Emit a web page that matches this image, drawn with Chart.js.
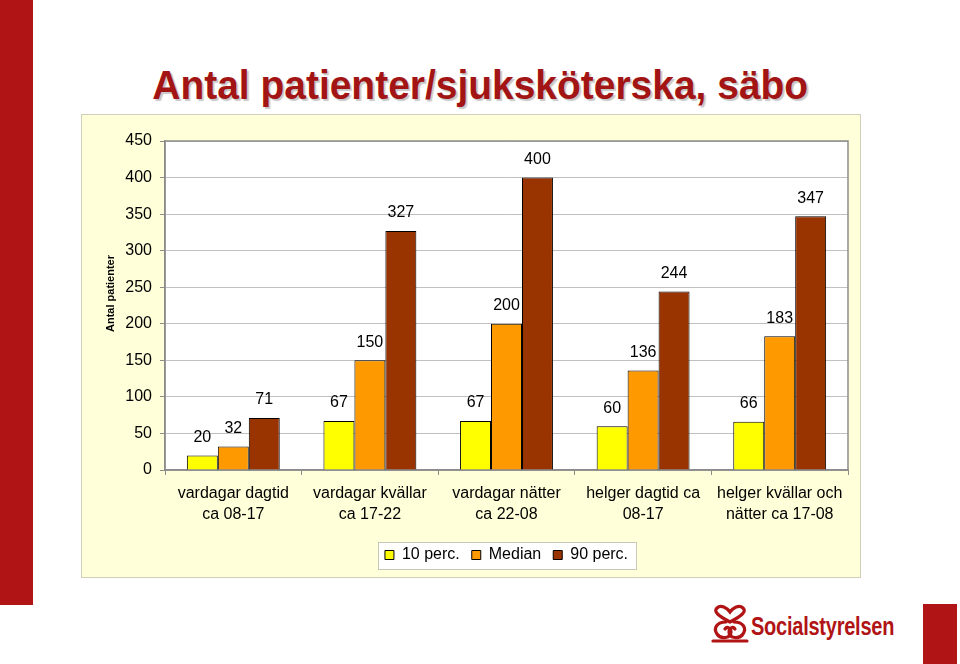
<!DOCTYPE html>
<html>
<head>
<meta charset="utf-8">
<script src="https://cdn.jsdelivr.net/npm/chart.js@4/dist/chart.umd.min.js"></script>
<style>
  html, body { margin: 0; padding: 0; background: #ffffff; }
  body { width: 960px; height: 664px; position: relative; overflow: hidden; font-family: "Liberation Sans", Arial, sans-serif; }
  #redbar { position: absolute; left: 0; top: 0; width: 33px; height: 605px; background: #b01414; }
  #redsq { position: absolute; left: 923px; top: 604px; width: 34px; height: 60px; background: #b01414; }
  #title { position: absolute; left: 0; width: 960px; top: 62px; text-align: center; font-weight: bold; font-size: 41px; color: #a31515;
           text-shadow: 2px 2px 1px #c8c8c8; white-space: nowrap; }
  #title span { display: inline-block; transform: scaleX(0.95); }
  #box { position: absolute; left: 82px; top: 115px; width: 778px; height: 462px; background: #ffffd9; box-shadow: 0 0 0 1px #d0d0b8; }
  canvas { display: block; }
  #logo { position: absolute; left: 709px; top: 604px; width: 200px; height: 44px; }
  #logotext { position: absolute; left: 751px; top: 612px; font-size: 25px; font-weight: bold; color: #b01414; transform: scaleX(0.80); transform-origin: left center; white-space: nowrap; letter-spacing: -0.3px; }
</style>
</head>
<body>
<div id="redbar"></div>
<div id="title"><span>Antal patienter/sjuksköterska, säbo</span></div>
<div id="box"><canvas id="c" width="778" height="462"></canvas></div>
<svg id="logo" viewBox="0 0 200 44" xmlns="http://www.w3.org/2000/svg">
  <g fill="none" stroke="#b01414" stroke-width="3.2" stroke-linecap="round">
    <path d="M21 18 C 10 12, 4 8, 8 4 C 12 0, 18 4, 21 8 C 24 4, 30 0, 34 4 C 38 8, 32 12, 21 18"/>
    <path d="M17 18 C 8 18, 4 24, 8 30 C 12 36, 22 34, 22 28 C 22 24, 18 22, 16 25"/>
    <path d="M25 18 C 34 18, 38 24, 34 30 C 30 36, 20 34, 20 28 C 20 24, 24 22, 26 25"/>
    <path d="M4 37 L 38 37"/>
  </g>
</svg>
<div id="logotext">Socialstyrelsen</div>
<div id="redsq"></div>
<script>
const categories = [
  ["vardagar dagtid", "ca 08-17"],
  ["vardagar kvällar", "ca 17-22"],
  ["vardagar nätter", "ca 22-08"],
  ["helger dagtid ca", "08-17"],
  ["helger kvällar och", "nätter ca 17-08"]
];
const seriesNames = ["10 perc.", "Median", "90 perc."];
const perc10 = [20, 67, 67, 60, 66];
const median = [32, 150, 200, 136, 183];
const perc90 = [71, 327, 400, 244, 347];
const yTicks = [0, 50, 100, 150, 200, 250, 300, 350, 400, 450];
const yAxisTitle = "Antal patienter";
const seriesColors = ["#ffff00", "#ff9900", "#993300"];

const plotBg = {
  id: "plotBg",
  beforeDraw(chart) {
    const { ctx, chartArea: a } = chart;
    ctx.save();
    ctx.fillStyle = "#ffffff";
    ctx.fillRect(a.left, a.top, a.right - a.left, a.bottom - a.top);
    const hb = chart.legend && chart.legend.legendHitBoxes;
    if (hb && hb.length) {
      let l = Infinity, r = -Infinity, t = Infinity, b = -Infinity;
      hb.forEach(h => { l = Math.min(l, h.left); r = Math.max(r, h.left + h.width); t = Math.min(t, h.top); b = Math.max(b, h.top + h.height); });
      const x0 = Math.round(l - 7) + 0.5, x1 = Math.round(r + 8) + 0.5;
      const y0 = Math.round(t - 5) + 0.5, y1 = Math.round(b + 6) + 0.5;
      ctx.fillStyle = "#ffffff";
      ctx.fillRect(x0, y0, x1 - x0, y1 - y0);
      ctx.strokeStyle = "#c8c8b8";
      ctx.lineWidth = 1;
      ctx.strokeRect(x0, y0, x1 - x0, y1 - y0);
    }
    // y axis title, drawn rotated as real text
    ctx.font = "bold 11px 'Liberation Sans', Arial, sans-serif";
    ctx.fillStyle = "#000000";
    ctx.textAlign = "center";
    ctx.textBaseline = "middle";
    ctx.translate(29, (a.top + a.bottom) / 2 - 12);
    ctx.rotate(-Math.PI / 2);
    ctx.fillText(yAxisTitle, 0, 0);
    ctx.restore();
  },
  beforeDatasetsDraw(chart) {
    const { ctx, chartArea: a } = chart;
    ctx.save();
    ctx.strokeStyle = "#8c8c8c";
    ctx.lineWidth = 1.5;
    ctx.strokeRect(a.left, a.top, a.right - a.left, a.bottom - a.top);
    ctx.restore();
  },
  afterDatasetsDraw(chart) {
    const { ctx } = chart;
    ctx.save();
    ctx.font = "16px 'Liberation Sans', Arial, sans-serif";
    ctx.fillStyle = "#000000";
    ctx.textAlign = "center";
    ctx.textBaseline = "middle";
    chart.data.datasets.forEach((ds, i) => {
      const meta = chart.getDatasetMeta(i);
      meta.data.forEach((bar, j) => {
        ctx.fillText(String(ds.data[j]), bar.x, bar.y - 18);
      });
    });
    ctx.restore();
  }
};

new Chart(document.getElementById("c"), {
  type: "bar",
  data: {
    labels: categories,
    datasets: [
      { label: seriesNames[0], data: perc10, backgroundColor: seriesColors[0] },
      { label: seriesNames[1], data: median, backgroundColor: seriesColors[1] },
      { label: seriesNames[2], data: perc90, backgroundColor: seriesColors[2] }
    ].map(d => Object.assign(d, { borderColor: "#000000", borderWidth: 1, categoryPercentage: 0.68, barPercentage: 1.0 }))
  },
  options: {
    responsive: false,
    animation: false,
    layout: { padding: { top: 26, right: 12, left: 0, bottom: 4 } },
    plugins: {
      legend: {
        position: "bottom",
        fullSize: false,
        labels: {
          boxWidth: 9, boxHeight: 9, padding: 12, color: "#000000",
          font: { family: "'Liberation Sans', Arial, sans-serif", size: 16 },
          generateLabels(chart) {
            return chart.data.datasets.map((ds, i) => ({
              text: ds.label, fillStyle: ds.backgroundColor, strokeStyle: "#000000", lineWidth: 1, datasetIndex: i, hidden: false
            }));
          }
        }
      },
      tooltip: { enabled: false }
    },
    scales: {
      x: {
        grid: { display: true, drawOnChartArea: false, drawTicks: true, tickLength: 5, color: "#8c8c8c", offset: true },
        border: { color: "#8c8c8c", width: 1.5 },
        ticks: { color: "#000000", padding: 8, maxRotation: 0, autoSkip: false,
                 font: { family: "'Liberation Sans', Arial, sans-serif", size: 16, lineHeight: 1.3 } },
        afterFit(scale) { scale.height = 65; }
      },
      y: {
        min: 0, max: 450,
        afterBuildTicks(scale) { scale.ticks = yTicks.map(v => ({ value: v })); },
        grid: { color: "#c0c0c0", tickLength: 5, tickColor: "#8c8c8c" },
        border: { color: "#8c8c8c", width: 1.5 },
        ticks: { color: "#000000", padding: 8, font: { family: "'Liberation Sans', Arial, sans-serif", size: 16 } },
        title: { display: false },
        afterFit(scale) { scale.width = 83; }
      }
    }
  },
  plugins: [plotBg]
});
</script>
</body>
</html>
